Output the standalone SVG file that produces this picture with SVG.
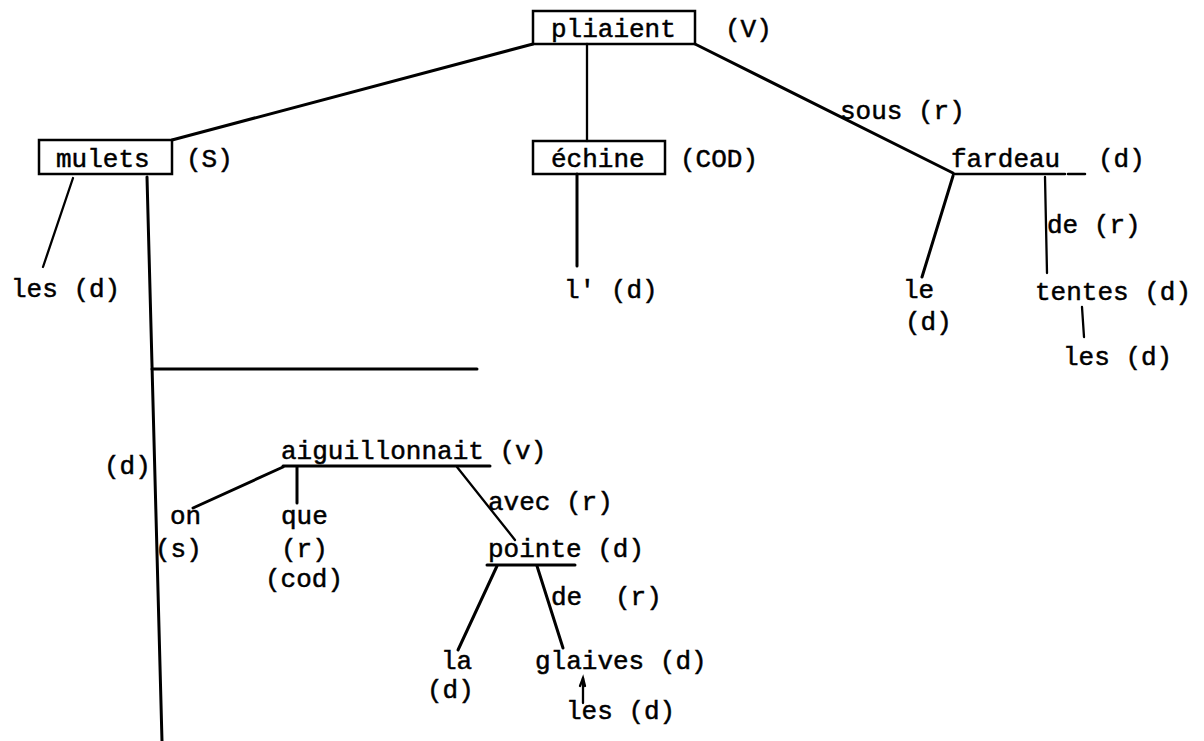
<svg xmlns="http://www.w3.org/2000/svg" width="1204" height="741" viewBox="0 0 1204 741">
<style>
text{font-family:"Liberation Mono","DejaVu Sans Mono",monospace;font-size:26px;fill:#000;stroke:#000;stroke-width:0.5}
.ln{stroke:#000;stroke-width:3;fill:none;stroke-linecap:round}
.th{stroke-width:2.3}
.box{fill:none;stroke:#000;stroke-width:2.5}
</style>
<rect width="1204" height="741" fill="#fff"/>
<g id="connectors">
<line class="ln" x1="533" y1="44" x2="172" y2="140"/>
<line class="ln th" x1="587" y1="44" x2="587" y2="141"/>
<line class="ln" x1="695" y1="44" x2="953" y2="173"/>
<line class="ln th" x1="73" y1="178" x2="43" y2="267"/>
<line class="ln" x1="147" y1="177" x2="162" y2="741"/>
<line class="ln" x1="152" y1="369" x2="477" y2="369"/>
<line class="ln" x1="577" y1="174" x2="577" y2="266"/>
<line class="ln" x1="953" y1="176" x2="922" y2="277"/>
<line class="ln th" x1="1045" y1="177" x2="1047" y2="273"/>
<line class="ln th" x1="1082" y1="307" x2="1084" y2="337"/>
<line class="ln" x1="283" y1="467" x2="193" y2="508"/>
<line class="ln" x1="297" y1="467" x2="297" y2="503"/>
<line class="ln th" x1="457" y1="467" x2="515" y2="540"/>
<line class="ln" x1="497" y1="566" x2="458" y2="650"/>
<line class="ln" x1="537" y1="566" x2="563" y2="648"/>
<line class="ln th" x1="583" y1="703" x2="583" y2="678"/>
<polyline class="ln th" points="580,686 583,678 585,686"/>
</g>
<g id="n-pliaient">
<rect class="box" x="533" y="11" width="162" height="33"/>
<text x="551" y="37">pliaient</text>
<text x="725" y="37">(V)</text>
</g>
<g id="n-mulets">
<rect class="box" x="39" y="140" width="133" height="34"/>
<text x="56" y="167">mulets</text>
<text x="186" y="167">(S)</text>
</g>
<g id="n-les1"><text x="11" y="297">les (d)</text></g>
<g id="n-echine">
<rect class="box" x="533" y="141" width="132" height="33"/>
<text x="551" y="167">échine</text>
<text x="680" y="167">(COD)</text>
</g>
<g id="n-l"><text x="564" y="298">l' (d)</text></g>
<g id="n-sous"><text x="840" y="119">sous (r)</text></g>
<g id="n-fardeau">
<text x="951" y="167">fardeau</text>
<line class="ln" x1="953" y1="174" x2="1065" y2="174" style="stroke-width:2.5"/>
<line class="ln" x1="1068" y1="174" x2="1085" y2="174" style="stroke-width:2.5"/>
<text x="1098" y="167">(d)</text>
</g>
<g id="n-le"><text x="903" y="298">le</text><text x="905" y="330">(d)</text></g>
<g id="n-de1"><text x="1047" y="233">de (r)</text></g>
<g id="n-tentes"><text x="1035" y="300">tentes (d)</text></g>
<g id="n-les2"><text x="1063" y="365">les (d)</text></g>
<g id="n-d"><text x="104" y="474">(d)</text></g>
<g id="n-aiguillonnait">
<text x="281" y="459">aiguillonnait (v)</text>
<line class="ln" x1="283" y1="466" x2="490" y2="466"/>
</g>
<g id="n-on"><text x="170" y="524">on</text><text x="155" y="557">(s)</text></g>
<g id="n-que"><text x="281" y="524">que</text><text x="281" y="557">(r)</text><text x="265" y="587">(cod)</text></g>
<g id="n-avec"><text x="488" y="510">avec (r)</text></g>
<g id="n-pointe">
<text x="488" y="557">pointe (d)</text>
<line class="ln" x1="487" y1="565" x2="575" y2="565"/>
</g>
<g id="n-de2"><text x="551" y="605">de</text><text x="615" y="605">(r)</text></g>
<g id="n-la"><text x="441" y="669">la</text><text x="427" y="698">(d)</text></g>
<g id="n-glaives"><text x="535" y="669">glaives (d)</text></g>
<g id="n-les3"><text x="566" y="719">les (d)</text></g>
</svg>
